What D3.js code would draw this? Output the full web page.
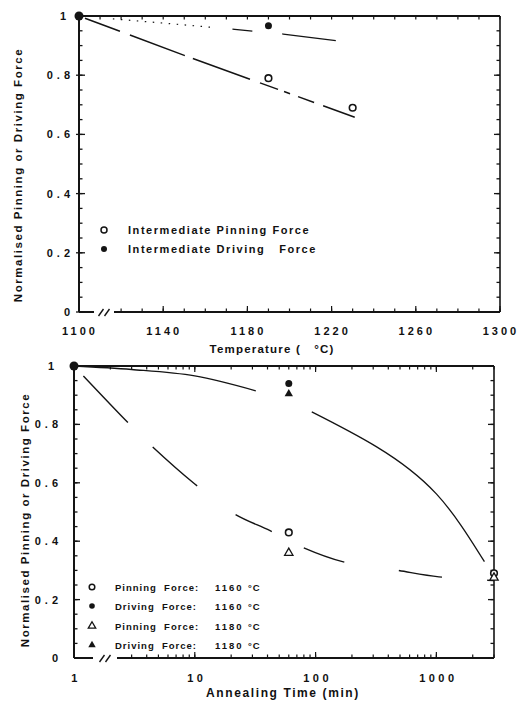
<!DOCTYPE html>
<html><head><meta charset="utf-8">
<script src="https://cdn.jsdelivr.net/npm/d3@7"></script>
<style>
html,body{margin:0;padding:0;background:#fff;}
svg text{font-family:"Liberation Sans",Arial,sans-serif;font-weight:bold;fill:#111;}
</style></head>
<body>
<svg id="c" width="519" height="701"></svg>
<script>
// ---------- DATA ----------
// Top chart (temperature)
const tempTicks = [1100,1140,1180,1220,1260,1300];
const forceTicks = [0,0.2,0.4,0.6,0.8,1];
const topPinPts = [[1190,0.79],[1230,0.69]];
const topDrivePts = [[1100,1.0],[1190,0.967]];
const topPinLine = [[1100,1.0],[1150,0.867],[1231,0.658]];
const topDriveLine = [[1100,1.0],[1145,0.973],[1174,0.955],[1197,0.939],[1222,0.917]];
const topLegend = ["Intermediate Pinning Force","Intermediate Driving   Force"];

// Bottom chart (annealing time, log)
const timeTicks = [1,10,100,1000];
const pin1160 = [[60,0.43],[3000,0.29]];
const drive1160 = [[1,1.0],[60,0.94]];
const pin1180 = [[60,0.36],[3000,0.275]];
const drive1180 = [[60,0.905]];
const pinCurve = [[1,1.0],[2.74,0.81],[4.4,0.726],[10,0.596],[21,0.495],[42,0.436],[78,0.379],[167,0.33],[466,0.301],[1050,0.278],[3000,0.265]];
const driveCurveA = [[1,1.0],[3,0.988],[10,0.966],[32,0.915]];
const driveCurveB = [[93,0.843],[318,0.724],[1000,0.562],[2500,0.33]];
const botLegendLabels = ["Pinning  Force:","Driving  Force:","Pinning  Force:","Driving  Force:"];
const botLegendTemps = ["1160","1160","1180","1180"];

// ---------- DRAW ----------
const svg = d3.select("#c");
const ink = "#141414";

function frame(g, x0, x1, y0, y1, brk){
  g.append("line").attr("x1",x0).attr("x2",x1).attr("y1",y0).attr("y2",y0).attr("stroke",ink).attr("stroke-width",2.2);
  g.append("line").attr("x1",x0).attr("x2",x0).attr("y1",y0).attr("y2",y1).attr("stroke",ink).attr("stroke-width",2);
  g.append("line").attr("x1",x1).attr("x2",x1).attr("y1",y0).attr("y2",y1).attr("stroke",ink).attr("stroke-width",1.6);
  g.append("line").attr("x1",x0).attr("x2",brk[0]).attr("y1",y1).attr("y2",y1).attr("stroke",ink).attr("stroke-width",2);
  g.append("line").attr("x1",brk[1]).attr("x2",x1).attr("y1",y1).attr("y2",y1).attr("stroke",ink).attr("stroke-width",2);
  const mx = (brk[0]+brk[1])/2;
  [-3,3].forEach(o=>{
    g.append("line").attr("x1",mx+o-2.5).attr("x2",mx+o+2.5).attr("y1",y1+4).attr("y2",y1-3)
      .attr("stroke",ink).attr("stroke-width",1.4);
  });
}

function ticksV(g, y, xPos, vals, len, out){
  vals.forEach(v=>{
    g.append("line").attr("x1",xPos - out).attr("x2",xPos+len).attr("y1",y(v)).attr("y2",y(v)).attr("stroke",ink).attr("stroke-width",1.3);
  });
}
function ticksH(g, x, yPos, vals, len){
  vals.forEach(v=>{
    g.append("line").attr("x1",x(v)).attr("x2",x(v)).attr("y1",yPos).attr("y2",yPos+len).attr("stroke",ink).attr("stroke-width",1.2);
  });
}

// ===== TOP CHART =====
const tX = d3.scaleLinear().domain([1100,1300]).range([79,500]);
const tY = d3.scaleLinear().domain([0,1]).range([312,16]);
const gT = svg.append("g");
frame(gT, 79, 500, 16, 312, [94,114]);

const minorY = d3.range(0,1.0001,0.05).map(v=>+v.toFixed(2));
ticksV(gT, tY, 79, minorY, 3.5, 0);
ticksV(gT, tY, 79, forceTicks, 6, 3);
ticksV(gT, tY, 500, minorY, -3.5, 0);
ticksV(gT, tY, 500, forceTicks, -6, 0);
const minorT = d3.range(1100,1301,10);
ticksH(gT, tX, 16, minorT, 3.5);
ticksH(gT, tX, 312, minorT.filter(v=>v>1110), -3.5);
ticksH(gT, tX, 312, tempTicks.filter(v=>v>1100), -6);

gT.selectAll(".xl").data(tempTicks).join("text")
  .attr("x",d=>tX(d)+1).attr("y",335).attr("text-anchor","middle")
  .style("font-size","11px").style("letter-spacing","3px").text(d=>d);
gT.selectAll(".yl").data(forceTicks).join("text")
  .attr("x",d=>d===1?70:74).attr("y",d=>tY(d)+4).attr("text-anchor","end")
  .style("font-size","11px").style("letter-spacing","4px").text(d=>d===0||d===1?d:d.toFixed(1));

gT.append("text").attr("transform","translate(22,175) rotate(-90)").attr("text-anchor","middle")
  .style("font-size","11.5px").style("letter-spacing","1.55px").text("Normalised Pinning or Driving Force");
gT.append("text").attr("x",272).attr("y",353).attr("text-anchor","middle")
  .style("font-size","11.5px").style("letter-spacing","1.2px").attr("xml:space","preserve").text("Temperature (   °C)");

const lineT = d3.line().x(d=>tX(d[0])).y(d=>tY(d[1]));
const f = 1.066;
gT.append("path").attr("d",lineT(topPinLine)).attr("fill","none").attr("stroke",ink).attr("stroke-width",1.5)
  .attr("stroke-dasharray",[0,6,35,10,55,8,57,10,18,6,6,8,16,9,40,200].map(v=>v*f).join(","));
gT.append("path").attr("d",lineT(topDriveLine)).attr("fill","none").attr("stroke",ink).attr("stroke-width",1.2)
  .attr("stroke-dasharray",[0,34].concat(d3.range(13).flatMap(()=>[1.5,6.5])).concat([0,16,20,30,56,100]).join(","));

gT.selectAll(".po").data(topPinPts).join("circle").attr("cx",d=>tX(d[0])).attr("cy",d=>tY(d[1])).attr("r",3.3)
  .attr("fill","#fff").attr("stroke",ink).attr("stroke-width",1.6);
gT.selectAll(".pd").data(topDrivePts).join("circle").attr("cx",d=>tX(d[0])).attr("cy",d=>tY(d[1])).attr("r",d=>d[0]===1100?4.5:3.5)
  .attr("fill",ink);

// legend
gT.append("circle").attr("cx",104).attr("cy",230).attr("r",3).attr("fill","#fff").attr("stroke",ink).attr("stroke-width",1.5);
gT.append("circle").attr("cx",104).attr("cy",249).attr("r",3).attr("fill",ink);
gT.selectAll(".lg").data(topLegend).join("text").attr("x",128).attr("y",(d,i)=>234+i*19)
  .attr("xml:space","preserve").style("font-size","11px").style("letter-spacing","1.55px").text(d=>d);

// ===== BOTTOM CHART =====
const bX = d3.scaleLog().domain([1,3000]).range([74,494]);
const bY = d3.scaleLinear().domain([0,1]).range([658,366]);
const gB = svg.append("g");
frame(gB, 74, 494, 366, 658, [93,117]);

ticksV(gB, bY, 74, minorY, 3.5, 0);
ticksV(gB, bY, 74, forceTicks, 6, 0);
ticksV(gB, bY, 494, minorY, -3.5, 0);
ticksV(gB, bY, 494, forceTicks, -6, 0);
const logMinor = [];
[1,10,100,1000].forEach(dec=>{ for(let k=1;k<10;k++){ const v=dec*k; if(v<=3000) logMinor.push(v);} });
ticksH(gB, bX, 366, logMinor, 3.5);
ticksH(gB, bX, 366, timeTicks, 6);
ticksH(gB, bX, 658, logMinor.filter(v=>bX(v)>118), -3.5);
ticksH(gB, bX, 658, timeTicks.filter(v=>v>1), -6);

gB.selectAll(".xl").data(timeTicks).join("text")
  .attr("x",d=>bX(d)+2).attr("y",682).attr("text-anchor","middle")
  .style("font-size","11px").style("letter-spacing","3.5px").text(d=>d);
gB.selectAll(".yl").data(forceTicks).join("text")
  .attr("x",d=>d===1?58:62).attr("y",d=>bY(d)+4).attr("text-anchor","end")
  .style("font-size","11px").style("letter-spacing","4px").text(d=>d===0||d===1?d:d.toFixed(1));

gB.append("text").attr("transform","translate(29,520) rotate(-90)").attr("text-anchor","middle")
  .style("font-size","11.5px").style("letter-spacing","1.55px").text("Normalised Pinning or Driving Force");
gB.append("text").attr("x",283).attr("y",697).attr("text-anchor","middle")
  .style("font-size","12px").style("letter-spacing","1.6px").text("Annealing Time (min)");

const lineB = d3.line().x(d=>bX(d[0])).y(d=>bY(d[1])).curve(d3.curveCatmullRom.alpha(0.5));
const lineBN = d3.line().x(d=>bX(d[0])).y(d=>bY(d[1])).curve(d3.curveNatural);
gB.append("path").attr("d",lineB(driveCurveA)).attr("fill","none").attr("stroke",ink).attr("stroke-width",1.3);
gB.append("path").attr("d",lineBN(driveCurveB)).attr("fill","none").attr("stroke",ink).attr("stroke-width",1.3);
gB.append("path").attr("d",lineB(pinCurve)).attr("fill","none").attr("stroke",ink).attr("stroke-width",1.4)
  .attr("stroke-dasharray","0,14,64,35,59,48,40,36,43,55,44,45,30,200");

const tri = d3.symbol().type(d3.symbolTriangle).size(30);
gB.selectAll(".p60").data(pin1160).join("circle").attr("cx",d=>bX(d[0])).attr("cy",d=>bY(d[1])).attr("r",3.3)
  .attr("fill","#fff").attr("stroke",ink).attr("stroke-width",1.6);
gB.selectAll(".d60").data(drive1160).join("circle").attr("cx",d=>bX(d[0])).attr("cy",d=>bY(d[1])).attr("r",d=>d[0]===1?4.5:3.5)
  .attr("fill",ink);
gB.selectAll(".p80").data(pin1180).join("path").attr("d",tri)
  .attr("transform",d=>`translate(${bX(d[0])},${bY(d[1])})`).attr("fill","#fff").attr("stroke",ink).attr("stroke-width",1.3);
gB.selectAll(".d80").data(drive1180).join("path").attr("d",tri)
  .attr("transform",d=>`translate(${bX(d[0])},${bY(d[1])})`).attr("fill",ink);

// legend
const lgY = [587,606,626,645];
gB.append("circle").attr("cx",92).attr("cy",lgY[0]).attr("r",2.8).attr("fill","#fff").attr("stroke",ink).attr("stroke-width",1.5);
gB.append("circle").attr("cx",92).attr("cy",lgY[1]).attr("r",2.8).attr("fill",ink);
gB.append("path").attr("d",d3.symbol().type(d3.symbolTriangle).size(24)).attr("transform",`translate(92,${lgY[2]})`)
  .attr("fill","#fff").attr("stroke",ink).attr("stroke-width",1.3);
gB.append("path").attr("d",d3.symbol().type(d3.symbolTriangle).size(24)).attr("transform",`translate(92,${lgY[3]})`)
  .attr("fill",ink);
botLegendLabels.forEach((t,i)=>{
  gB.append("text").attr("x",115).attr("y",lgY[i]+3.5).attr("xml:space","preserve")
    .style("font-size","9.5px").style("letter-spacing","1px").text(t);
  gB.append("text").attr("x",215).attr("y",lgY[i]+3.5)
    .style("font-size","9.5px").style("letter-spacing","2px").text(botLegendTemps[i]);
  gB.append("text").attr("x",248).attr("y",lgY[i]+3.5)
    .style("font-size","9.5px").style("letter-spacing","1px").text("°C");
});
</script>
</body></html>
